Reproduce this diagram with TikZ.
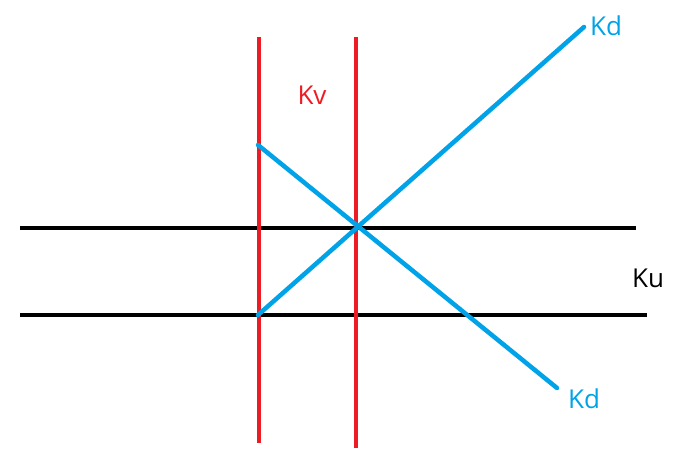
\documentclass[tikz,border=0pt]{standalone}
\usepackage{fontspec}
\setmainfont{Open Sans}
\definecolor{pred}{RGB}{237,28,36}
\definecolor{pblue}{RGB}{0,162,232}
\begin{document}
\begin{tikzpicture}[x=1pt,y=-1pt,
  redline/.style={draw=pred,line width=4.5pt},
  blackline/.style={draw=black,line width=4pt},
  blueline/.style={draw=pblue,line width=4.5pt,line cap=round},
  lbl/.style={inner sep=0pt,font=\fontsize{26}{26}\selectfont}]
\useasboundingbox (0,0) rectangle (686,460);
% horizontal black lines
\coordinate (h1a) at (20,228); \coordinate (h1b) at (636,228);
\coordinate (h2a) at (20,315); \coordinate (h2b) at (647,315);
\draw[blackline] (h1a) -- (h1b);
\draw[blackline] (h2a) -- (h2b);
% vertical red lines
\coordinate (v1a) at (259,37); \coordinate (v1b) at (259,443);
\coordinate (v2a) at (356,37); \coordinate (v2b) at (356,448);
\draw[redline] (v1a) -- (v1b);
\draw[redline] (v2a) -- (v2b);
% blue lines
\coordinate (d1a) at (258,315); \coordinate (d1b) at (584,27);
\coordinate (d2a) at (258,145); \coordinate (d2b) at (557,388);
\draw[blueline] (d1a) -- (d1b);
\draw[blueline] (d2a) -- (d2b);
% labels
\node[lbl,text=pred] (kv) at (312,95) {Kv};
\node[lbl,text=pblue] (kd1) at (606,26) {Kd};
\node[lbl,text=pblue] (kd2) at (584,399) {Kd};
\node[lbl,text=black] (ku) at (648,278) {Ku};
\end{tikzpicture}
\end{document}
